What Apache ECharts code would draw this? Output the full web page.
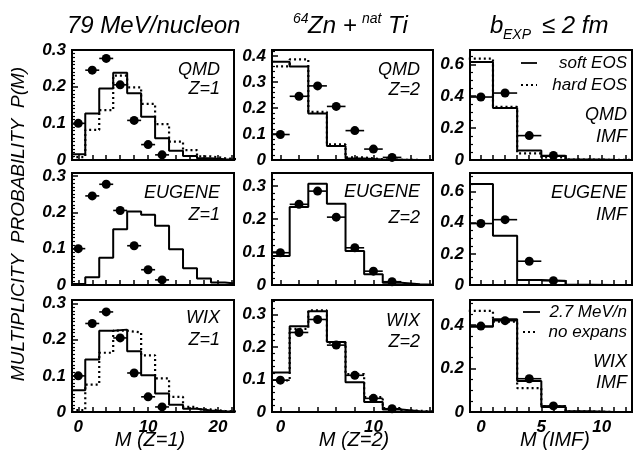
<!DOCTYPE html>
<html>
<head>
<meta charset="utf-8">
<script src="https://cdn.jsdelivr.net/npm/echarts@6/dist/echarts.min.js"></script>
<style>
html, body { margin: 0; padding: 0; background: #fff; }
#chart { width: 633px; height: 457px; }
</style>
</head>
<body>
<div id="chart"></div>
<script>
// bin centres (bins are 2 units wide)
const M_Z1 = [0, 2, 4, 6, 8, 10, 12, 14, 16, 18, 20, 22];
const M_Z2 = [0, 2, 4, 6, 8, 10, 12, 14, 16];
const M_IMF = [0, 2, 4, 6, 8, 10, 12];

// experiment (filled circles)
const expM_Z1 = [0, 2, 4, 6, 8, 10, 12];
const exp_Z1 = [0.100, 0.245, 0.277, 0.205, 0.108, 0.042, 0.014];
const expM_Z2 = [0, 2, 4, 6, 8, 10, 12];
const exp_Z2 = [0.098, 0.245, 0.285, 0.206, 0.113, 0.042, 0.010];
const expM_IMF = [0, 2, 4, 6];
const exp_IMF = [0.395, 0.420, 0.153, 0.028];

// QMD soft / hard EOS
const qmdSoft_Z1 = [0.016, 0.127, 0.195, 0.238, 0.182, 0.118, 0.059, 0.025, 0.011, 0.005, 0.002, 0.001];
const qmdHard_Z1 = [0.008, 0.082, 0.136, 0.230, 0.198, 0.153, 0.098, 0.050, 0.027, 0.010, 0.005, 0.002];
const qmdSoft_Z2 = [0.378, 0.360, 0.179, 0.054, 0.006, 0.002, 0.001, 0, 0];
const qmdHard_Z2 = [0.360, 0.387, 0.185, 0.060, 0.010, 0.003, 0.001, 0, 0];
const qmdSoft_IMF = [0.615, 0.326, 0.059, 0.025, 0.003, 0.001, 0];
const qmdHard_IMF = [0.636, 0.333, 0.042, 0.017, 0.003, 0.001, 0];

// EUGENE
const eugene_Z1 = [0.003, 0.021, 0.075, 0.153, 0.202, 0.193, 0.163, 0.098, 0.046, 0.018, 0.007, 0.003];
const eugene_Z2 = [0.088, 0.237, 0.307, 0.247, 0.103, 0.033, 0.007, 0.002, 0];
const eugene_IMF = [0.649, 0.317, 0.032, 0.025, 0.002, 0, 0];

// WIX 2.7 MeV/n / no expansion
const wixExp_Z1 = [0.060, 0.145, 0.225, 0.228, 0.168, 0.102, 0.051, 0.020, 0.009, 0.004, 0.002, 0.001];
const wixNoExp_Z1 = [0.005, 0.076, 0.164, 0.225, 0.220, 0.157, 0.093, 0.042, 0.014, 0.007, 0.003, 0.001];
const wixExp_Z2 = [0.122, 0.264, 0.310, 0.216, 0.092, 0.031, 0.008, 0.002, 0];
const wixNoExp_Z2 = [0.097, 0.256, 0.313, 0.214, 0.117, 0.046, 0.012, 0.004, 0];
const wixExp_IMF = [0.392, 0.426, 0.143, 0.023, 0.003, 0, 0];
const wixNoExp_IMF = [0.465, 0.415, 0.110, 0.027, 0.003, 0, 0];

const FONT = '"Liberation Sans", Arial, Helvetica, sans-serif';

const columns = [
	{ left: 72, width: 162, xMax: 22.3, xTick: 2, xLabelEvery: 10, yStep: 0.1, yMinor: 10, M: M_Z1, expM: expM_Z1, exp: exp_Z1 },
	{ left: 272, width: 161, xMax: 16.4, xTick: 2, xLabelEvery: 10, yStep: 0.1, yMinor: 5, M: M_Z2, expM: expM_Z2, exp: exp_Z2 },
	{ left: 470, width: 162, xMax: 12.5, xTick: 1, xLabelEvery: 5, yStep: 0.2, yMinor: 4, M: M_IMF, expM: expM_IMF, exp: exp_IMF },
];
const rowsLayout = [
	{ top: 50, height: 110 },
	{ top: 173, height: 112 },
	{ top: 300, height: 112 },
];
const yMax = [
	[0.3, 0.423, 0.69],
	[0.308, 0.34, 0.72],
	[0.31, 0.345, 0.515],
];
// [row][col] -> { solid, dotted }
const models = [
	[{ solid: qmdSoft_Z1, dotted: qmdHard_Z1 }, { solid: qmdSoft_Z2, dotted: qmdHard_Z2 }, { solid: qmdSoft_IMF, dotted: qmdHard_IMF }],
	[{ solid: eugene_Z1 }, { solid: eugene_Z2 }, { solid: eugene_IMF }],
	[{ solid: wixExp_Z1, dotted: wixNoExp_Z1 }, { solid: wixExp_Z2, dotted: wixNoExp_Z2 }, { solid: wixExp_IMF, dotted: wixNoExp_IMF }],
];

// histogram outline as step line: one point per left bin edge + closing edge
function stepData(centres, vals) {
	const pts = centres.map((c, i) => [c - 1, vals[i]]);
	pts.push([centres[centres.length - 1] + 1, vals[vals.length - 1]]);
	return pts;
}

const grid = [], xAxis = [], yAxis = [], series = [];
let idx = 0;
rowsLayout.forEach((row, r) => {
	columns.forEach((col, c) => {
		grid.push({
			left: col.left, width: col.width, top: row.top, height: row.height,
			show: true, borderColor: "#000", borderWidth: 2, backgroundColor: "transparent",
		});
		xAxis.push({
			type: "value", gridIndex: idx, min: -0.9, max: col.xMax,
			minInterval: col.xTick, maxInterval: col.xTick,
			axisLine: { show: false, onZero: false },
			axisTick: { show: true, inside: true, length: 5, lineStyle: { color: "#000", width: 1.5 } },
			minorTick: { show: false },
			splitLine: { show: false },
			axisLabel: {
				show: r === 2, margin: 7, color: "#000",
				fontFamily: FONT, fontSize: 17, fontStyle: "italic", fontWeight: "bold",
				showMinLabel: false, showMaxLabel: false,
				formatter: (v) => (Math.abs(v % col.xLabelEvery) < 1e-6 ? String(Math.round(v)) : ""),
			},
		});
		yAxis.push({
			type: "value", gridIndex: idx, min: 0, max: yMax[r][c], interval: col.yStep,
			axisLine: { show: false, onZero: false },
			axisTick: { show: true, inside: true, length: 6, lineStyle: { color: "#000", width: 1.5 } },
			minorTick: { show: true, splitNumber: col.yMinor, length: 3, lineStyle: { color: "#000", width: 1.2 } },
			splitLine: { show: false },
			axisLabel: {
				margin: 6, color: "#000",
				fontFamily: FONT, fontSize: 17, fontStyle: "italic", fontWeight: "bold",
				formatter: (v) => {
					if (v === 0) return "0";
					const k = v / col.yStep;
					return Math.abs(k - Math.round(k)) < 1e-6 ? v.toFixed(1) : "";
				},
			},
		});
		const mdl = models[r][c];
		if (mdl.dotted) {
			series.push({
				type: "line", xAxisIndex: idx, yAxisIndex: idx, step: "end", showSymbol: false, silent: true,
				lineStyle: { color: "#000", width: 2.2, type: [2, 3] },
				data: stepData(col.M, mdl.dotted),
			});
		}
		series.push({
			type: "line", xAxisIndex: idx, yAxisIndex: idx, step: "end", showSymbol: false, silent: true,
			lineStyle: { color: "#000", width: 2 },
			data: stepData(col.M, mdl.solid),
		});
		const pts = col.expM.map((m, i) => [m, col.exp[i]]);
		series.push({
			type: "custom", xAxisIndex: idx, yAxisIndex: idx, clip: true, silent: true,
			renderItem: function (params, api) {
				const a = api.coord([api.value(0) - 1, api.value(1)]);
				const b = api.coord([api.value(0) + 1, api.value(1)]);
				return { type: "line", shape: { x1: a[0], y1: a[1], x2: b[0], y2: b[1] }, style: { stroke: "#000", lineWidth: 1.6 } };
			},
			data: pts,
		});
		series.push({
			type: "scatter", xAxisIndex: idx, yAxisIndex: idx, symbol: "circle", symbolSize: 9, silent: true,
			itemStyle: { color: "#000", opacity: 1 },
			data: pts,
		});
		idx++;
	});
});

function txt(x, y, text, size, align, extra) {
	return Object.assign({
		type: "text", x: x, y: y, silent: true,
		style: {
			text: text, fill: "#000", align: align || "right", verticalAlign: "middle",
			font: "italic " + size + "px " + FONT,
		},
	}, extra || {});
}
function seg(x1, x2, y, dotted) {
	return {
		type: "line", silent: true,
		shape: { x1: x1, y1: y, x2: x2, y2: y },
		style: { stroke: "#000", lineWidth: dotted ? 2.2 : 1.8, lineDash: dotted ? [2, 3] : null },
	};
}

const graphic = [
	// column headers
	txt(67, 26, "79 MeV/nucleon", 24, "left"),
	txt(293, 19, "64", 14, "left"),
	txt(308, 26, "Zn +", 24, "left"),
	txt(362, 19, "nat", 14, "left"),
	txt(388, 26, "Ti", 24, "left"),
	txt(490, 26, "b", 24, "left"),
	txt(503, 35, "EXP", 14, "left"),
	txt(542, 26, "\u2264 2 fm", 24, "left"),
	// y title
	txt(19, 224, "MULTIPLICITY  PROBABILITY  P(M)", 19, "center", { rotation: Math.PI / 2 }),
	// x titles
	txt(150, 440, "M (Z=1)", 20, "center"),
	txt(354, 440, "M (Z=2)", 20, "center"),
	txt(555, 440, "M (IMF)", 20, "center"),
	// panel tags
	txt(220, 70, "QMD", 18), txt(220, 89, "Z=1", 18),
	txt(420, 70, "QMD", 18), txt(420, 90, "Z=2", 18),
	txt(627, 115, "QMD", 18), txt(627, 137, "IMF", 18),
	txt(220, 193, "EUGENE", 18), txt(220, 215, "Z=1", 18),
	txt(420, 192, "EUGENE", 18), txt(420, 218, "Z=2", 18),
	txt(627, 193, "EUGENE", 18), txt(627, 215, "IMF", 18),
	txt(220, 318, "WIX", 18), txt(220, 340, "Z=1", 18),
	txt(420, 321, "WIX", 18), txt(420, 342, "Z=2", 18),
	txt(627, 362, "WIX", 18), txt(627, 383, "IMF", 18),
	// legends
	seg(521, 537, 63, false), txt(627, 63, "soft EOS", 17),
	seg(521, 537, 85, true), txt(627, 85, "hard EOS", 17),
	seg(523, 540, 312, false), txt(627, 312, "2.7 MeV/n", 17),
	seg(523, 538, 332, true), txt(627, 332, "no expans", 17),
];

const chart = echarts.init(document.getElementById("chart"), null, { renderer: "canvas" });
chart.setOption({
	animation: false,
	backgroundColor: "#fff",
	grid: grid,
	xAxis: xAxis,
	yAxis: yAxis,
	series: series,
	graphic: graphic,
});
</script>
</body>
</html>
